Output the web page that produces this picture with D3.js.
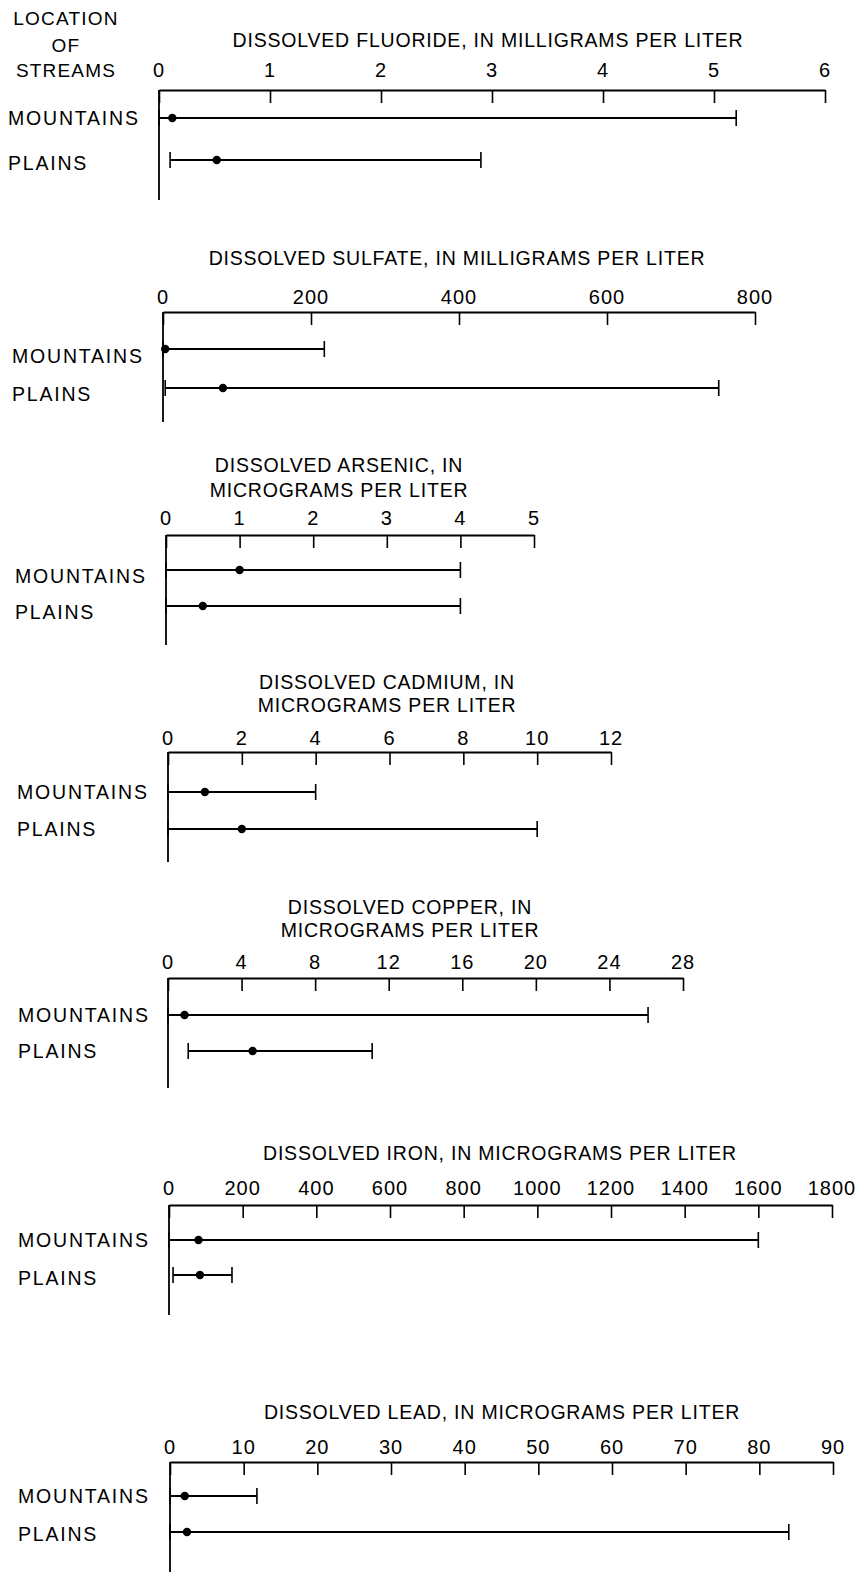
<!DOCTYPE html>
<html>
<head>
<meta charset="utf-8">
<script src="https://cdn.jsdelivr.net/npm/d3@7"></script>
<style>
  body { margin: 0; background: #fff; }
  text { font-family: "Liberation Sans", Arial, sans-serif; fill: #000; }
</style>
</head>
<body>
<div id="chart"></div>
<script>
// data
const categories = ["MOUNTAINS", "PLAINS"];
const titles = [
  ["DISSOLVED FLUORIDE, IN MILLIGRAMS PER LITER"],
  ["DISSOLVED SULFATE, IN MILLIGRAMS PER LITER"],
  ["DISSOLVED ARSENIC, IN", "MICROGRAMS PER LITER"],
  ["DISSOLVED CADMIUM, IN", "MICROGRAMS PER LITER"],
  ["DISSOLVED COPPER, IN", "MICROGRAMS PER LITER"],
  ["DISSOLVED IRON, IN MICROGRAMS PER LITER"],
  ["DISSOLVED LEAD, IN MICROGRAMS PER LITER"]
];
const axisMax = [6, 800, 5, 12, 28, 1800, 90];
const tickStep = [1, 200, 1, 2, 4, 200, 10];
const mountainsMin = [0, 0, 0, 0, 0, 0, 0];
const mountainsMedian = [0.12, 3, 1, 1, 0.9, 80, 2];
const mountainsMax = [5.2, 218, 4, 4, 26.1, 1600, 11.8];
const plainsMin = [0.1, 3, 0, 0, 1.1, 11, 0];
const plainsMedian = [0.52, 81, 0.5, 2, 4.6, 84, 2.3];
const plainsMax = [2.9, 751, 4, 10, 11.1, 171, 84];

// layout
const W = 868, H = 1579;
const axisY  = [90, 312, 535, 752, 978, 1205, 1462];
const left   = [159, 163, 166, 168, 168, 169, 170];
const right  = [825, 755, 534, 611, 683, 832, 833];
const rowDy  = [[28, 70], [37, 76], [35, 71], [40, 77], [37, 73], [35, 70], [34, 70]];
const labDy  = [[0, 3], [7, 6], [6, 6], [0, 0], [0, 0], [0, 3], [0, 2]];
const labX   = [8, 12, 15, 17, 18, 18, 18];
const titleX = [488, 457, 339, 387, 410, 500, 502];
const titleY = [[40], [258], [465, 490], [682, 705], [907, 930], [1153], [1412]];
const tickLabY = [70, 297, 518, 738, 962, 1188, 1447];

const svg = d3.select("#chart").append("svg")
  .attr("width", W).attr("height", H);

// corner label
svg.append("g").selectAll("text")
  .data(["LOCATION", "OF", "STREAMS"])
  .enter().append("text")
  .attr("x", 66)
  .attr("y", (d, i) => [18, 45, 70][i])
  .attr("text-anchor", "middle")
  .attr("dominant-baseline", "central")
  .attr("font-size", 19)
  .attr("letter-spacing", 1.2)
  .text(d => d);

titles.forEach((title, p) => {
  const x = d3.scaleLinear().domain([0, axisMax[p]]).range([left[p], right[p]]);
  const y0 = axisY[p];
  const g = svg.append("g");

  // title
  g.selectAll("text.title")
    .data(title)
    .enter().append("text")
    .attr("class", "title")
    .attr("x", titleX[p])
    .attr("y", (d, i) => titleY[p][i])
    .attr("text-anchor", "middle")
    .attr("dominant-baseline", "central")
    .attr("font-size", 19.5)
    .attr("letter-spacing", 0.8)
    .text(d => d);

  // top axis, ticks hanging down
  const ticks = d3.range(0, axisMax[p] + tickStep[p] / 2, tickStep[p]);
  const axis = d3.axisBottom(x).tickValues(ticks).tickSize(13).tickSizeOuter(0).tickFormat("");
  const ag = g.append("g").attr("transform", `translate(0,${y0})`).call(axis);
  ag.select(".domain").attr("stroke", "#000").attr("stroke-width", 1.8);
  ag.selectAll(".tick line").attr("stroke", "#000").attr("stroke-width", 1.6);

  g.selectAll("text.tick")
    .data(ticks)
    .enter().append("text")
    .attr("class", "tick")
    .attr("x", d => x(d))
    .attr("y", tickLabY[p])
    .attr("text-anchor", "middle")
    .attr("dominant-baseline", "central")
    .attr("font-size", 20)
    .attr("letter-spacing", 1)
    .text(d => d);

  // vertical axis
  g.append("line")
    .attr("x1", x(0)).attr("x2", x(0))
    .attr("y1", y0).attr("y2", y0 + 110)
    .attr("stroke", "#000").attr("stroke-width", 1.8);

  const rows = categories.map((c, i) => ({
    name: c,
    min: i ? plainsMin[p] : mountainsMin[p],
    med: i ? plainsMedian[p] : mountainsMedian[p],
    max: i ? plainsMax[p] : mountainsMax[p],
    y: y0 + rowDy[p][i],
    ly: y0 + rowDy[p][i] + labDy[p][i]
  }));

  g.selectAll("text.cat")
    .data(rows)
    .enter().append("text")
    .attr("class", "cat")
    .attr("x", labX[p])
    .attr("y", d => d.ly)
    .attr("dominant-baseline", "central")
    .attr("font-size", 19.5)
    .attr("letter-spacing", 1.8)
    .text(d => d.name);

  const r = g.selectAll("g.row").data(rows).enter().append("g").attr("class", "row");
  r.append("line")
    .attr("x1", d => x(d.min)).attr("x2", d => x(d.max))
    .attr("y1", d => d.y).attr("y2", d => d.y)
    .attr("stroke", "#000").attr("stroke-width", 2.2);
  r.append("line")
    .attr("x1", d => x(d.min)).attr("x2", d => x(d.min))
    .attr("y1", d => d.y - 8).attr("y2", d => d.y + 8)
    .attr("stroke", "#000").attr("stroke-width", 1.6);
  r.append("line")
    .attr("x1", d => x(d.max)).attr("x2", d => x(d.max))
    .attr("y1", d => d.y - 8).attr("y2", d => d.y + 8)
    .attr("stroke", "#000").attr("stroke-width", 1.6);
  r.append("circle")
    .attr("cx", d => x(d.med)).attr("cy", d => d.y)
    .attr("r", 4.2).attr("fill", "#000");
});
</script>
</body>
</html>
